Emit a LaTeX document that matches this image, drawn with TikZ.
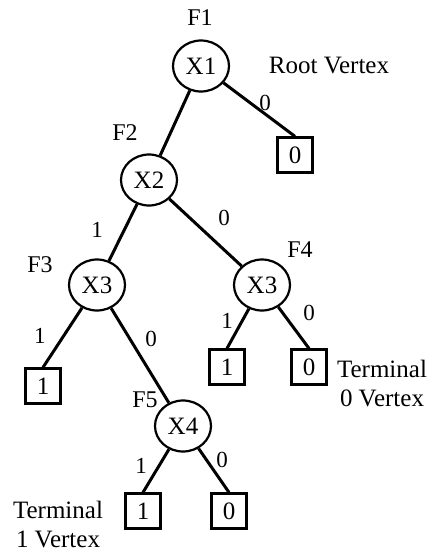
\documentclass[tikz,border=0pt]{standalone}
\usepackage{fontspec}
\setmainfont{Liberation Serif}
\usetikzlibrary{shapes.geometric}

\begin{document}
\begin{tikzpicture}[
  x=1pt, y=-1pt,
  vertex/.style={ellipse, draw, line width=2.2pt, minimum width=56pt, minimum height=51pt, inner sep=0pt, font=\fontsize{25}{28}\selectfont},
  terminal/.style={rectangle, draw, line width=2.2pt, minimum size=35pt, inner sep=0pt, font=\fontsize{25}{28}\selectfont},
  fname/.style={font=\fontsize{24}{27}\selectfont, inner sep=0pt},
  elabel/.style={font=\fontsize{23}{26}\selectfont, inner sep=0pt},
  note/.style={font=\fontsize{25}{29}\selectfont, inner sep=0pt, align=center},
  branch/.style={line width=3pt}
]
\useasboundingbox (0,0) rectangle (432,552);

\node[vertex] (x1) at (201, 66)  {X1};
\node[vertex] (x2) at (149, 180) {X2};
\node[vertex] (x3a) at (97, 285) {X3};
\node[vertex] (x3b) at (262, 285) {X3};
\node[vertex] (x4) at (183, 426) {X4};

\node[fname] (f1) at (200, 18)  {F1};
\node[fname] (f2) at (125, 133) {F2};
\node[fname] (f3) at (40, 265)  {F3};
\node[fname] (f4) at (300, 250) {F4};
\node[fname] (f5) at (145, 400) {F5};

\node[terminal] (t0a) at (295, 155) {0};
\node[terminal] (t1a) at (43, 386)  {1};
\node[terminal] (t1b) at (227, 367) {1};
\node[terminal] (t0b) at (309, 367) {0};
\node[terminal] (t1c) at (143, 511) {1};
\node[terminal] (t0c) at (229, 511) {0};

\node[note] (root) at (329, 66) {Root Vertex};
\node[note] (term0) at (382, 384) {Terminal\\0 Vertex};
\node[note] (term1) at (58, 525) {Terminal\\1 Vertex};

\draw[branch] (x1) -- (x2);
\draw[branch] (x1) -- (t0a.north);
\draw[branch] (x2) -- (x3a);
\draw[branch] (x2) -- (x3b);
\draw[branch] (x3a) -- (t1a.north);
\draw[branch] (x3a) -- (x4);
\draw[branch] (x3b) -- (t1b.north);
\draw[branch] (x3b) -- (t0b.north);
\draw[branch] (x4) -- (t1c.north);
\draw[branch] (x4) -- (t0c.north);

\node[elabel] (e1) at (265, 103) {0};
\node[elabel] (e2) at (97, 230)  {1};
\node[elabel] (e3) at (224, 218) {0};
\node[elabel] (e4) at (40, 336)  {1};
\node[elabel] (e5) at (151, 339) {0};
\node[elabel] (e6) at (227, 321) {1};
\node[elabel] (e7) at (309, 313) {0};
\node[elabel] (e8) at (141, 466) {1};
\node[elabel] (e9) at (222, 460) {0};

\end{tikzpicture}
\end{document}
